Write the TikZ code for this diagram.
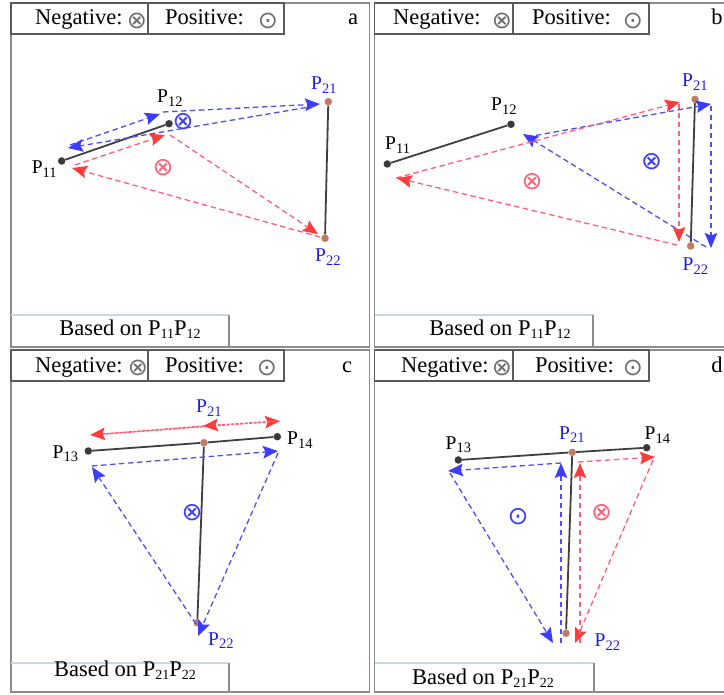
\documentclass[tikz,border=0pt]{standalone}
\usepackage{fontspec}
\setmainfont{Liberation Serif}
\newfontfamily\symf{DejaVu Sans}
\usetikzlibrary{arrows.meta}
\definecolor{bl}{HTML}{5050F0}
\definecolor{blA}{HTML}{3C3CFF}
\definecolor{rd}{HTML}{FF6078}
\definecolor{rdA}{HTML}{FF3C3C}
\definecolor{lab}{HTML}{1E1EE6}
\definecolor{frm}{HTML}{8C8C8C}
\definecolor{hdr}{HTML}{5A5A5A}
\definecolor{segc}{HTML}{404040}
\definecolor{dotk}{HTML}{3A3A3A}
\definecolor{doto}{HTML}{C27A62}
\definecolor{symg}{HTML}{6E6E6E}
\definecolor{lightl}{HTML}{C8D8E0}
\newcommand\Pl[1]{P\raisebox{-3.5pt}{\fontsize{14.5}{14.5}\selectfont #1}}
\newcommand\Pb[1]{P\raisebox{-3pt}{\fontsize{14}{14}\selectfont #1}}
\tikzset{
  frame/.style={draw=frm, line width=1.5pt},
  hbox/.style={draw=hdr, line width=1.1pt},
  htext/.style={font=\fontsize{22.5}{26}\selectfont, inner sep=0pt, anchor=base west},
  plet/.style={font=\fontsize{22.5}{26}\selectfont, inner sep=0pt, anchor=base},
  btext/.style={font=\fontsize{22.5}{26}\selectfont, inner sep=0pt, anchor=base},
  hsym/.style={font=\symf\fontsize{24}{24}\selectfont, text=symg, inner sep=0pt},
  bsym/.style={font=\symf\fontsize{25}{25}\selectfont, text=blA, inner sep=0pt},
  rsym/.style={font=\symf\fontsize{25}{25}\selectfont, text=rd, inner sep=0pt},
  plab/.style={font=\fontsize{19.5}{22}\selectfont, inner sep=0pt, anchor=base west},
  blab/.style={plab, text=lab},
  dotb/.style={circle, fill=dotk, inner sep=0pt, minimum size=7.5pt},
  doto/.style={circle, fill=doto, inner sep=0pt, minimum size=7.5pt},
  seg/.style={draw=segc, line width=1.8pt},
  barr/.style={draw=bl, line width=1.3pt, dash pattern=on 5.5pt off 3.5pt,
    -{Stealth[length=15pt,width=12.5pt,inset=2.5pt,color=blA]}},
  rarr/.style={draw=rd, line width=1.3pt, dash pattern=on 5.5pt off 3.5pt,
    -{Stealth[length=15pt,width=12.5pt,inset=2.5pt,color=rdA]}},
  rarrd/.style={rarr, dash pattern=on 3pt off 1.5pt},
  baseln/.style={draw=lightl, line width=1.2pt},
  baserl/.style={draw=frm, line width=1.2pt},
}
\begin{document}
\begin{tikzpicture}[x=1pt,y=-1pt]
\useasboundingbox (0,0) rectangle (724,695);
\clip (0,0) rectangle (724,695);
\fill[white] (0,0) rectangle (724,695);

% ---------------- frames ----------------
\draw[frame] (11,3) rectangle (369.5,347);
\draw[frame] (374.5,3) rectangle (740,347);
\draw[frame] (11,350) rectangle (369.5,692);
\draw[frame] (374.5,350) rectangle (740,692);

% ---------------- headers ----------------
\draw[hbox] (11,3) rectangle (148,34);
\draw[hbox] (148,3) rectangle (284,34);
\node[htext] (aneg) at (35,25) {Negative:};
\node[hsym] (anegs) at (137,20.5) {⊗};
\node[htext] (apos) at (165,25) {Positive:};
\node[hsym] (aposs) at (268,20.5) {⊙};
\node[plet] (alet) at (353,25) {a};

\draw[hbox] (374.5,3) rectangle (513,34);
\draw[hbox] (513,3) rectangle (649,34);
\node[htext] (bneg) at (393,25) {Negative:};
\node[hsym] (bnegs) at (502,20.5) {⊗};
\node[htext] (bpos) at (532,25) {Positive:};
\node[hsym] (bposs) at (633,20.5) {⊙};
\node[plet] (blet) at (717,25) {b};

\draw[hbox] (11,350) rectangle (148,381);
\draw[hbox] (148,350) rectangle (284,381);
\node[htext] (cneg) at (35,373) {Negative:};
\node[hsym] (cnegs) at (138,368) {⊗};
\node[htext] (cpos) at (165,373) {Positive:};
\node[hsym] (cposs) at (267,368) {⊙};
\node[plet] (clet) at (347,373) {c};

\draw[hbox] (374.5,350) rectangle (513,381);
\draw[hbox] (513,350) rectangle (649,381);
\node[htext] (dneg) at (401,373) {Negative:};
\node[hsym] (dnegs) at (502,368) {⊗};
\node[htext] (dpos) at (535,373) {Positive:};
\node[hsym] (dposs) at (633,368) {⊙};
\node[plet] (dlet) at (717,373) {d};

% ---------------- "Based on" boxes ----------------
\draw[baseln] (11,315) -- (229,315);
\draw[baserl] (229,315) -- (229,347);
\node[btext] (abase) at (130,336) {Based on \Pb{11}\Pb{12}};
\draw[baseln] (374.5,315) -- (593,315);
\draw[baserl] (593,315) -- (593,347);
\node[btext] (bbase) at (500,336) {Based on \Pb{11}\Pb{12}};
\draw[baseln] (11,663) -- (229,663);
\draw[baserl] (229,663) -- (229,692);
\node[btext] (cbase) at (125,676) {Based on \Pb{21}\Pb{22}};
\draw[baseln] (374.5,663) -- (594,663);
\draw[baserl] (594,663) -- (594,692);
\node[btext] (dbase) at (483,684) {Based on \Pb{21}\Pb{22}};

% ================= panel a =================
\node[dotb] (a11) at (61.7,161) {};
\node[dotb] (a12) at (169,123.7) {};
\node[doto] (a21) at (328.3,101.7) {};
\node[doto] (a22) at (325,238.3) {};
\draw[seg] (a11) -- (a12);
\draw[seg] (a21) -- (a22);
\draw[barr] ([shift={(8.3,-16)}]a11.center) -- ([shift={(-9,-9.7)}]a12.center);
\draw[barr] ([shift={(-6,-11.7)}]a12.center) -- ([shift={(-8.3,2.3)}]a21.center);
\draw[barr] ([shift={(-13.3,4.3)}]a21.center) -- ([shift={(6.3,-13)}]a11.center);
\draw[rarr] ([shift={(13.3,4)}]a11.center) -- ([shift={(-4,11.3)}]a12.center);
\draw[rarr] ([shift={(1,11.3)}]a12.center) -- ([shift={(-7,-4.3)}]a22.center);
\draw[rarr] ([shift={(-5,-1.3)}]a22.center) -- ([shift={(10.3,7)}]a11.center);
\node[bsym] (asb) at (183,122) {⊗};
\node[rsym] (asr) at (163,168) {⊗};
\node[plab] (la11) at (31.7,174) {\Pl{11}};
\node[plab] (la12) at (157,103) {\Pl{12}};
\node[blab] (la21) at (311,90) {\Pl{21}};
\node[blab] (la22) at (315,261.7) {\Pl{22}};

% ================= panel b =================
\node[dotb] (b11) at (387.3,164) {};
\node[dotb] (b12) at (511,124.3) {};
\node[doto] (b21) at (695,99.3) {};
\node[doto] (b22) at (690.7,246) {};
\draw[seg] (b11) -- (b12);
\draw[seg] (b21) -- (b22);
\draw[barr] ([shift={(16,12.7)}]b12.center) -- ([shift={(16,4.7)}]b21.center);
\draw[barr] ([shift={(16,6.7)}]b21.center) -- ([shift={(20.3,2)}]b22.center);
\draw[barr] ([shift={(15.3,1)}]b22.center) -- ([shift={(12,9.7)}]b12.center);
\draw[rarr] ([shift={(8.7,14)}]b11.center) -- ([shift={(-15,2.7)}]b21.center);
\draw[rarr] ([shift={(-16,4.7)}]b21.center) -- ([shift={(-11.7,-4)}]b22.center);
\draw[rarr] ([shift={(-13.7,-1)}]b22.center) -- ([shift={(9.7,14)}]b11.center);
\node[bsym] (bsb) at (651.7,162) {⊗};
\node[rsym] (bsr) at (532,182) {⊗};
\node[plab] (lb11) at (385,150) {\Pl{11}};
\node[plab] (lb12) at (491,111) {\Pl{12}};
\node[blab] (lb21) at (682,86.7) {\Pl{21}};
\node[blab] (lb22) at (682.5,270.7) {\Pl{22}};

% ================= panel c =================
\node[dotb] (c13) at (88.3,451) {};
\node[dotb] (c14) at (277.3,436.7) {};
\node[doto] (c21) at (204,442.7) {};
\node[doto] (c22) at (197.3,622.7) {};
\draw[seg] (c13) -- (c21) -- (c14);
\draw[seg] (c21) -- (c22);
\draw[rarrd] ([shift={(3.7,-16)}]c13.center) -- ([shift={(2.7,-15.7)}]c14.center);
\draw[rarrd] ([shift={(1.7,-15.7)}]c14.center) -- ([shift={(-1,-16.7)}]c21.center);
\draw[rarrd] ([shift={(0,-16.7)}]c21.center) -- ([shift={(1.7,-16)}]c13.center);
\draw[barr] ([shift={(3.7,15)}]c13.center) -- ([shift={(0.7,14.3)}]c14.center);
\draw[barr] ([shift={(0.7,16.3)}]c14.center) -- ([shift={(0.7,13.3)}]c22.center);
\draw[barr] ([shift={(-1.3,1.3)}]c22.center) -- ([shift={(3.7,16)}]c13.center);
\node[bsym] (csb) at (192,513) {⊗};
\node[plab] (lc13) at (52.5,458.3) {\Pl{13}};
\node[plab] (lc14) at (287,445) {\Pl{14}};
\node[blab] (lc21) at (196,413) {\Pl{21}};
\node[blab] (lc22) at (208,645) {\Pl{22}};

% ================= panel d =================
\node[dotb] (d13) at (458.3,460) {};
\node[dotb] (d14) at (646.7,447.7) {};
\node[doto] (d21) at (572.3,452.3) {};
\node[doto] (d22) at (566,633.3) {};
\draw[seg] (d13) -- (d21) -- (d14);
\draw[seg] (d21) -- (d22);
\draw[barr] ([shift={(-11.3,10.7)}]d21.center) -- ([shift={(-10.3,11)}]d13.center);
\draw[barr] ([shift={(-8.3,13)}]d13.center) -- ([shift={(-13,9.7)}]d22.center);
\draw[barr] ([shift={(-5,9.7)}]d22.center) -- ([shift={(-11.3,10.7)}]d21.center);
\draw[rarr] ([shift={(5.7,9.7)}]d21.center) -- ([shift={(8.3,9.3)}]d14.center);
\draw[rarr] ([shift={(6.3,12.3)}]d14.center) -- ([shift={(9,9.7)}]d22.center);
\draw[rarr] ([shift={(14,9.7)}]d22.center) -- ([shift={(7.7,10.7)}]d21.center);
\node[bsym] (dsb) at (518,517) {⊙};
\node[rsym] (dsr) at (601.7,513) {⊗};
\node[plab] (ld13) at (445.5,449.3) {\Pl{13}};
\node[blab] (ld21) at (559,439.3) {\Pl{21}};
\node[plab] (ld14) at (644.5,440) {\Pl{14}};
\node[blab] (ld22) at (594.5,646.7) {\Pl{22}};
\end{tikzpicture}
\end{document}
